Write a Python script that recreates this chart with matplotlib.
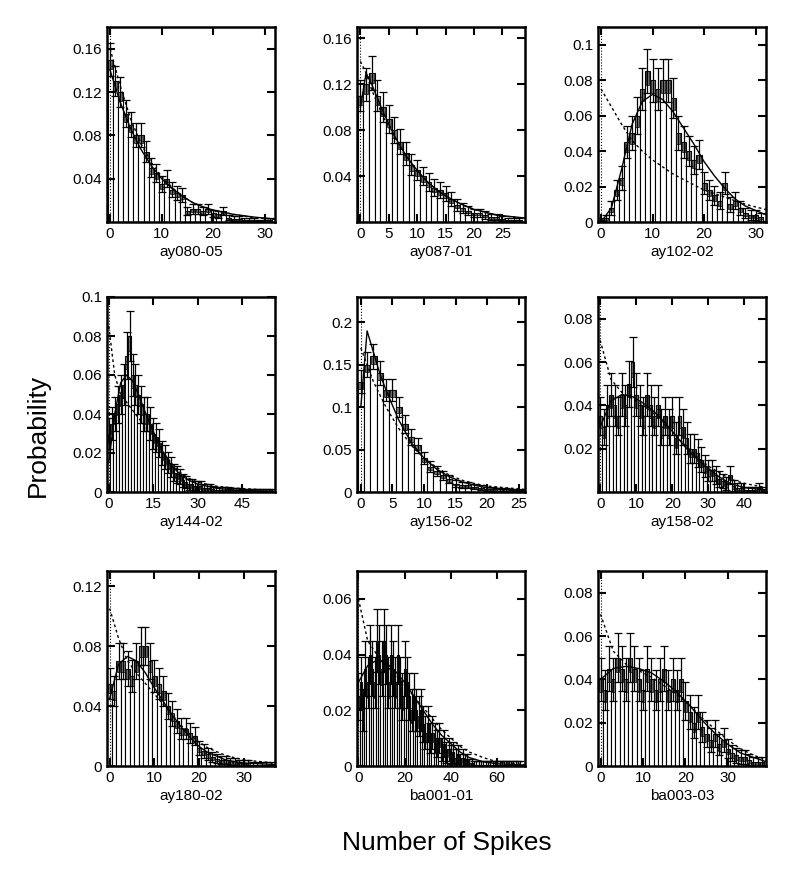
import numpy as np
import matplotlib.pyplot as plt

# spike-count histograms, one entry per cell
names = ["ay080-05", "ay087-01", "ay102-02",
         "ay144-02", "ay156-02", "ay158-02",
         "ay180-02", "ba001-01", "ba003-03"]

bars = [
    [0.15, 0.13, 0.12, 0.10, 0.09, 0.08, 0.08, 0.065, 0.05, 0.045, 0.035, 0.04, 0.03, 0.027, 0.025, 0.01,
     0.012, 0.012, 0.01, 0.012, 0.008, 0.007, 0.01, 0.004, 0.003, 0.003, 0.002, 0.002, 0.002, 0.001, 0.002, 0.002],
    [0.11, 0.12, 0.13, 0.11, 0.10, 0.09, 0.08, 0.07, 0.06, 0.05, 0.045, 0.04, 0.035, 0.03, 0.028, 0.025,
     0.02, 0.015, 0.012, 0.01, 0.008, 0.008, 0.006, 0.004, 0.004, 0.003, 0.002, 0.002, 0.002],
    [0.001, 0.002, 0.008, 0.018, 0.025, 0.045, 0.05, 0.06, 0.075, 0.085, 0.08, 0.075, 0.08, 0.08, 0.07, 0.05,
     0.045, 0.04, 0.035, 0.038, 0.022, 0.018, 0.015, 0.012, 0.022, 0.01, 0.012, 0.008, 0.005, 0.004, 0.004, 0.003],
    [0.03, 0.035, 0.04, 0.045, 0.05, 0.055, 0.07, 0.08, 0.06, 0.055, 0.05, 0.045, 0.04, 0.04, 0.035, 0.03,
     0.028, 0.025, 0.02, 0.018, 0.015, 0.013, 0.01, 0.009, 0.008, 0.006, 0.005, 0.004, 0.004, 0.003, 0.003,
     0.003, 0.002, 0.002, 0.002, 0.0015, 0.001, 0.001, 0.001, 0.001, 0.001, 0.0008, 0.0008, 0.0008, 0.0008,
     0.0006, 0.0006, 0.0006, 0.0005, 0.0005, 0.0005, 0.0005, 0.0005, 0.0005, 0.0005, 0.0005],
    [0.13, 0.15, 0.16, 0.14, 0.12, 0.12, 0.10, 0.08, 0.065, 0.055, 0.04, 0.03, 0.025, 0.02, 0.015, 0.01,
     0.008, 0.008, 0.006, 0.005, 0.004, 0.004, 0.003, 0.003, 0.002, 0.002],
    [0.035, 0.03, 0.04, 0.045, 0.04, 0.035, 0.045, 0.04, 0.05, 0.06, 0.045, 0.04, 0.035, 0.045, 0.04, 0.035,
     0.04, 0.03, 0.035, 0.03, 0.035, 0.025, 0.035, 0.03, 0.025, 0.02, 0.02, 0.018, 0.015, 0.012, 0.01, 0.01,
     0.008, 0.006, 0.005, 0.004, 0.008, 0.003, 0.002, 0.002, 0.001, 0.001, 0.001, 0.001, 0.002, 0.001],
    [0.055, 0.05, 0.07, 0.07, 0.065, 0.06, 0.07, 0.08, 0.08, 0.07, 0.06, 0.055, 0.05, 0.04, 0.035, 0.03,
     0.025, 0.025, 0.022, 0.02, 0.012, 0.01, 0.008, 0.006, 0.005, 0.004, 0.004, 0.003, 0.003, 0.002, 0.002,
     0.002, 0.001, 0.001, 0.001, 0.001, 0.001],
    [0.025, 0.03, 0.02, 0.035, 0.03, 0.04, 0.035, 0.03, 0.045, 0.04, 0.035, 0.045, 0.04, 0.03, 0.04, 0.035,
     0.03, 0.04, 0.03, 0.025, 0.035, 0.03, 0.025, 0.02, 0.025, 0.02, 0.018, 0.02, 0.015, 0.012, 0.015, 0.01,
     0.012, 0.01, 0.008, 0.01, 0.006, 0.008, 0.005, 0.006, 0.004, 0.005, 0.003, 0.004, 0.002, 0.003, 0.002,
     0.002, 0.001, 0.001] + [0.0005] * 21,
    [0.04, 0.035, 0.045, 0.04, 0.05, 0.045, 0.04, 0.05, 0.045, 0.04, 0.035, 0.045, 0.04, 0.035, 0.04, 0.045,
     0.035, 0.04, 0.035, 0.04, 0.03, 0.025, 0.02, 0.025, 0.018, 0.015, 0.012, 0.015, 0.01, 0.012, 0.008,
     0.006, 0.005, 0.004, 0.004, 0.003, 0.002, 0.002, 0.002],
]

# sample sizes used for the error bars
counts = [650, 600, 550, 500, 700, 450, 500, 350, 400]

fit_x = [
    [0, 2, 4, 6, 8, 10, 12, 14, 16, 18, 20, 24, 28, 32],
    [0, 1, 2, 4, 6, 8, 10, 12, 14, 16, 18, 20, 24, 29],
    [0, 2, 4, 6, 8, 10, 12, 14, 16, 18, 20, 22, 24, 26, 28, 32],
    [0, 2, 4, 6, 8, 10, 12, 15, 18, 21, 24, 27, 30, 36, 42, 56],
    [0, 1, 2, 3, 4, 6, 8, 10, 12, 14, 16, 18, 20, 26],
    [0, 3, 6, 9, 12, 15, 18, 21, 24, 27, 30, 33, 36, 40, 46],
    [0, 2, 4, 6, 8, 10, 12, 14, 16, 18, 20, 22, 26, 30, 37],
    [0, 4, 8, 12, 16, 20, 24, 28, 32, 36, 40, 44, 48, 54, 60, 72],
    [0, 3, 6, 9, 12, 15, 18, 21, 24, 27, 30, 33, 36, 39],
]
fit_y = [
    [0.14, 0.11, 0.086, 0.067, 0.052, 0.04, 0.031, 0.024, 0.018, 0.014, 0.011, 0.007, 0.0045, 0.0027],
    [0.10, 0.13, 0.12, 0.096, 0.075, 0.058, 0.045, 0.034, 0.026, 0.02, 0.015, 0.011, 0.006, 0.0035],
    [0.0, 0.008, 0.03, 0.055, 0.068, 0.072, 0.069, 0.062, 0.053, 0.044, 0.034, 0.026, 0.019, 0.013, 0.009, 0.004],
    [0.015, 0.04, 0.056, 0.06, 0.057, 0.05, 0.042, 0.031, 0.021, 0.014, 0.009, 0.006, 0.004, 0.002, 0.001, 0.0003],
    [0.10, 0.19, 0.165, 0.14, 0.12, 0.085, 0.058, 0.04, 0.027, 0.018, 0.012, 0.008, 0.005, 0.002],
    [0.03, 0.042, 0.045, 0.044, 0.041, 0.037, 0.032, 0.026, 0.02, 0.015, 0.011, 0.007, 0.004, 0.002, 0.001],
    [0.045, 0.068, 0.073, 0.07, 0.062, 0.052, 0.043, 0.034, 0.026, 0.019, 0.013, 0.009, 0.004, 0.002, 0.001],
    [0.03, 0.036, 0.038, 0.037, 0.034, 0.03, 0.025, 0.02, 0.015, 0.011, 0.008, 0.005, 0.003, 0.0015, 0.0008, 0.0003],
    [0.04, 0.045, 0.046, 0.045, 0.043, 0.039, 0.034, 0.028, 0.021, 0.015, 0.01, 0.006, 0.004, 0.002],
]
dash_y = [
    [0.16, 0.125, 0.095, 0.072, 0.055, 0.042, 0.032, 0.024, 0.018, 0.014, 0.011, 0.007, 0.004, 0.0025],
    [0.14, 0.13, 0.115, 0.092, 0.073, 0.057, 0.044, 0.034, 0.026, 0.02, 0.015, 0.011, 0.006, 0.003],
    [0.075, 0.065, 0.055, 0.046, 0.04, 0.035, 0.031, 0.027, 0.024, 0.021, 0.018, 0.016, 0.014, 0.012, 0.01, 0.007],
    [0.085, 0.06, 0.05, 0.046, 0.042, 0.038, 0.034, 0.028, 0.021, 0.015, 0.01, 0.007, 0.005, 0.003, 0.002, 0.0008],
    [0.17, 0.15, 0.13, 0.115, 0.1, 0.075, 0.055, 0.04, 0.029, 0.02, 0.014, 0.01, 0.007, 0.003],
    [0.07, 0.052, 0.046, 0.043, 0.04, 0.036, 0.031, 0.026, 0.021, 0.016, 0.012, 0.009, 0.006, 0.004, 0.002],
    [0.105, 0.085, 0.07, 0.062, 0.055, 0.048, 0.041, 0.034, 0.027, 0.021, 0.016, 0.012, 0.007, 0.004, 0.002],
    [0.06, 0.045, 0.04, 0.036, 0.033, 0.029, 0.025, 0.021, 0.017, 0.013, 0.01, 0.007, 0.005, 0.003, 0.0015, 0.0005],
    [0.07, 0.053, 0.047, 0.044, 0.041, 0.037, 0.033, 0.028, 0.022, 0.017, 0.012, 0.008, 0.005, 0.003],
]

xlims = [32, 29, 32, 56, 26, 46, 37, 72, 39]
ylims = [0.18, 0.17, 0.11, 0.10, 0.23, 0.09, 0.13, 0.07, 0.09]
xticks = [[0, 10, 20, 30], [0, 5, 10, 15, 20, 25], [0, 10, 20, 30],
          [0, 15, 30, 45], [0, 5, 10, 15, 20, 25], [0, 10, 20, 30, 40],
          [0, 10, 20, 30], [0, 20, 40, 60], [0, 10, 20, 30]]
yticks = [[0.04, 0.08, 0.12, 0.16], [0.04, 0.08, 0.12, 0.16], [0, 0.02, 0.04, 0.06, 0.08, 0.1],
          [0, 0.02, 0.04, 0.06, 0.08, 0.1], [0, 0.05, 0.1, 0.15, 0.2], [0.02, 0.04, 0.06, 0.08],
          [0, 0.04, 0.08, 0.12], [0, 0.02, 0.04, 0.06], [0, 0.02, 0.04, 0.06, 0.08]]

W, H = 793, 876
fig = plt.figure(figsize=(W / 100, H / 100), dpi=100)
plt.rcParams['font.family'] = ['Liberation Sans', 'DejaVu Sans']

col_x = [107, 357, 598]
row_y = [27, 297, 571]
aw, ah = 168, 195

for i in range(9):
    r, c = divmod(i, 3)
    ax = fig.add_axes([col_x[c] / W, 1 - (row_y[r] + ah) / H, aw / W, ah / H])
    p = np.array(bars[i])
    x = np.arange(len(p))
    err = np.sqrt(p / counts[i])
    box = np.minimum(err * 0.6, p)
    ax.bar(x, p, width=1.0, color='white', edgecolor='black', linewidth=0.8)
    ax.bar(x, box, bottom=p - box, width=0.75,
           color='#777777', edgecolor='black', linewidth=0.5)
    ax.errorbar(x, p, yerr=err, fmt='none', ecolor='black', elinewidth=0.9, capsize=3, capthick=0.9)
    ax.plot(fit_x[i], fit_y[i], color='black', linewidth=1.0)
    ax.plot(fit_x[i], dash_y[i], color='black', linewidth=1.0, linestyle=(0, (2, 2)))
    ax.axvline(0, color='black', linestyle=':', linewidth=0.8)
    ax.set_xlim(-0.6, xlims[i])
    ax.set_ylim(0, ylims[i])
    ax.set_xticks(xticks[i])
    ax.set_yticks(yticks[i])
    ax.set_yticklabels([f"{t:g}" for t in yticks[i]])
    ax.tick_params(direction='in', top=True, right=True, length=6, width=1.5, labelsize=11)
    for s in ax.spines.values():
        s.set_linewidth(1.8)
    ax.set_xlabel(names[i], fontsize=11, labelpad=3)

fig.text(38 / W, 1 - 435 / H, "Probability", rotation=90, fontsize=19, ha='center', va='center')
fig.text(447 / W, 1 - 843 / H, "Number of Spikes", fontsize=19, ha='center', va='center')

fig.savefig("out.png", dpi=100)
